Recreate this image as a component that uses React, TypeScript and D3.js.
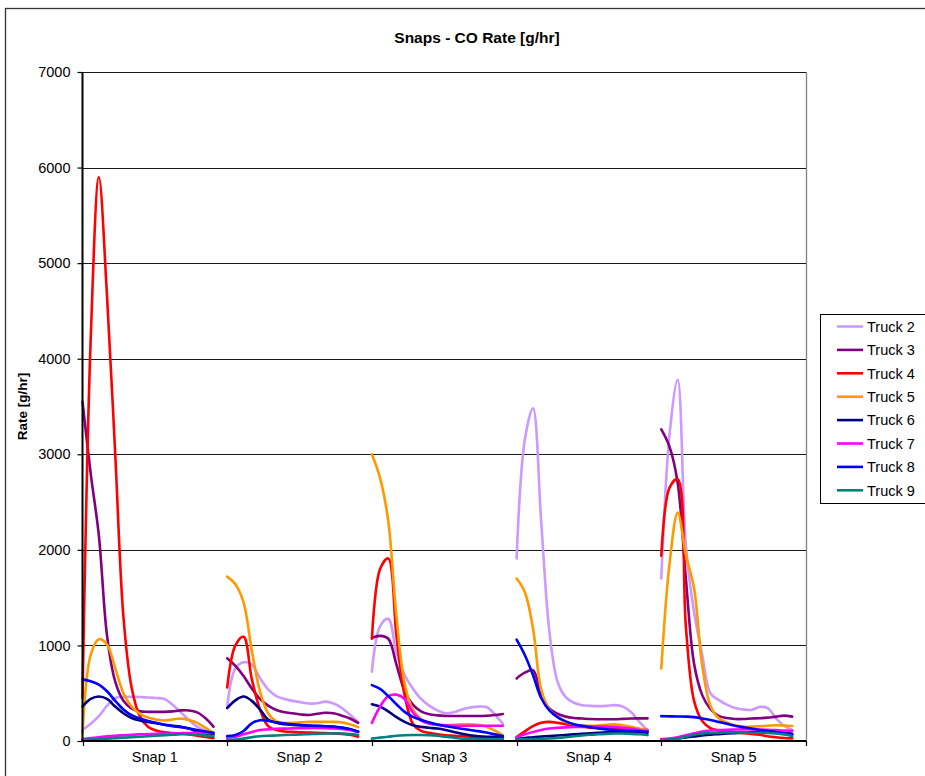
import React, { useRef, useEffect } from "react"
import * as d3 from "d3"

// categories / series
const snaps = ["Snap 1", "Snap 2", "Snap 3", "Snap 4", "Snap 5"]
const trucks = ["Truck 2", "Truck 3", "Truck 4", "Truck 5", "Truck 6", "Truck 7", "Truck 8", "Truck 9"]
const colors = ["#CC99FF", "#800080", "#FF0000", "#FF9900", "#000080", "#FF00FF", "#0000FF", "#008080"]
const yTicks = [0, 1000, 2000, 3000, 4000, 5000, 6000, 7000]

// CO rate [g/hr], 17 readings per snap
const truck2 = [
    [115, 180, 260, 370, 450, 462, 462, 460, 455, 450, 440, 380, 300, 220, 150, 110, 80],
    [360, 760, 825, 800, 660, 540, 470, 440, 420, 405, 392, 395, 412, 392, 345, 275, 200],
    [725, 1200, 1280, 920, 690, 550, 440, 370, 320, 290, 300, 330, 350, 360, 355, 280, 180],
    [1910, 3150, 3480, 2300, 1150, 620, 460, 400, 375, 368, 365, 368, 375, 360, 300, 200, 110],
    [1700, 3200, 3780, 2050, 1350, 900, 500, 430, 380, 345, 330, 325, 355, 345, 240, 160, 115],
]
const truck3 = [
    [3550, 2800, 2150, 1100, 620, 420, 340, 312, 305, 305, 305, 310, 320, 320, 300, 240, 150],
    [865, 785, 680, 550, 440, 370, 325, 300, 290, 278, 272, 285, 295, 290, 265, 235, 190],
    [1080, 1100, 1070, 800, 520, 380, 310, 280, 268, 262, 262, 262, 262, 262, 265, 272, 283],
    [655, 715, 740, 490, 340, 285, 255, 240, 235, 230, 228, 227, 228, 232, 236, 237, 237],
    [3260, 3080, 2700, 1700, 810, 480, 335, 262, 240, 230, 230, 235, 238, 245, 255, 265, 255],
]
const truck4 = [
    [450, 4200, 5900, 4650, 3000, 1300, 560, 260, 150, 110, 90, 82, 78, 68, 55, 42, 30],
    [560, 1000, 1090, 650, 330, 155, 115, 100, 95, 90, 88, 85, 82, 80, 75, 65, 45],
    [1070, 1800, 1910, 1100, 480, 180, 105, 85, 70, 60, 55, 50, 45, 40, 40, 42, 45],
    [40, 100, 155, 190, 200, 190, 175, 160, 150, 140, 135, 130, 128, 125, 122, 118, 115],
    [1940, 2650, 2740, 1200, 420, 210, 135, 110, 100, 90, 82, 75, 65, 50, 40, 32, 27],
]
const truck5 = [
    [80, 900, 1065, 1010, 760, 500, 360, 285, 245, 225, 215, 225, 235, 220, 190, 140, 80],
    [1720, 1640, 1450, 950, 520, 290, 205, 190, 190, 195, 200, 200, 200, 200, 195, 175, 145],
    [3000, 2750, 2300, 1300, 600, 330, 230, 185, 172, 168, 170, 175, 175, 168, 150, 110, 60],
    [1700, 1560, 1180, 540, 330, 250, 200, 175, 162, 160, 162, 170, 175, 165, 150, 130, 105],
    [760, 1850, 2390, 1950, 1600, 790, 370, 240, 195, 165, 152, 150, 155, 160, 165, 162, 157],
]
const truck6 = [
    [360, 440, 465, 440, 360, 290, 240, 215, 200, 185, 170, 160, 150, 130, 100, 80, 70],
    [345, 425, 465, 420, 330, 225, 190, 175, 168, 163, 160, 157, 155, 148, 138, 120, 95],
    [385, 360, 310, 250, 200, 165, 148, 138, 130, 115, 95, 75, 60, 50, 45, 45, 45],
    [25, 32, 40, 46, 52, 58, 63, 70, 76, 80, 85, 90, 95, 95, 92, 90, 87],
    [15, 20, 28, 38, 48, 58, 66, 72, 78, 82, 86, 90, 94, 95, 92, 85, 75],
]
const truck7 = [
    [20, 30, 40, 48, 55, 60, 65, 70, 72, 75, 78, 80, 82, 84, 85, 85, 85],
    [35, 45, 70, 95, 115, 122, 128, 130, 132, 134, 135, 136, 135, 132, 125, 115, 95],
    [190, 360, 470, 485, 440, 300, 215, 180, 168, 163, 160, 160, 160, 160, 160, 160, 160],
    [40, 70, 95, 115, 130, 138, 143, 146, 148, 150, 150, 150, 148, 140, 130, 115, 100],
    [20, 25, 38, 60, 80, 100, 110, 115, 118, 120, 122, 122, 120, 118, 115, 110, 108],
]
const truck8 = [
    [645, 625, 590, 520, 420, 330, 270, 235, 210, 190, 170, 155, 145, 130, 115, 100, 85],
    [52, 63, 105, 185, 218, 210, 195, 183, 175, 167, 162, 158, 155, 150, 140, 125, 100],
    [585, 545, 470, 385, 305, 252, 220, 195, 172, 155, 142, 128, 115, 103, 88, 70, 52],
    [1060, 900, 690, 450, 320, 250, 205, 175, 158, 145, 132, 122, 115, 110, 106, 102, 97],
    [260, 258, 256, 255, 250, 235, 220, 200, 180, 160, 145, 130, 115, 105, 95, 80, 65],
]
const truck9 = [
    [10, 15, 20, 25, 30, 35, 40, 45, 50, 55, 60, 65, 70, 70, 65, 58, 52],
    [10, 15, 25, 40, 50, 55, 58, 62, 65, 68, 72, 75, 78, 80, 78, 72, 62],
    [25, 35, 45, 55, 60, 62, 62, 60, 55, 45, 35, 25, 20, 20, 20, 20, 20],
    [15, 18, 20, 23, 27, 32, 40, 50, 58, 65, 70, 75, 78, 78, 75, 70, 62],
    [10, 15, 25, 45, 65, 78, 84, 88, 90, 90, 88, 87, 86, 84, 78, 68, 52],
]

const series = [truck2, truck3, truck4, truck5, truck6, truck7, truck8, truck9]

const W = 925
const H = 776
const FONT = "'Liberation Sans', Arial, Helvetica, sans-serif"
const SPAN = 0.905 // part of each snap band covered by readings

const App = () => {

    const element = useRef<SVGSVGElement>(null)

    useEffect(() => {
        const svg = d3.select(element.current)
        svg.selectAll("*").remove()

        const left = 82.5, right = 806, top = 72, bottom = 741

        const x = d3.scaleLinear().domain([0, snaps.length]).range([left, right])
        const y = d3.scaleLinear().domain([0, 7000]).range([bottom, top])
        const crisp = (v: number) => Math.round(v) + 0.5

        // chart border
        svg.append("rect")
            .attr("x", 5.5).attr("y", 8.5)
            .attr("width", 960).attr("height", 820)
            .attr("fill", "#fff")
            .attr("stroke", "#333")
            .attr("stroke-width", 1.3)

        svg.append("text")
            .attr("x", 477).attr("y", 43)
            .attr("text-anchor", "middle")
            .style("font-family", FONT)
            .style("font-size", "15.5px")
            .style("font-weight", "bold")
            .text("Snaps - CO Rate [g/hr]")

        // plot area right border
        svg.append("line")
            .attr("x1", crisp(right)).attr("x2", crisp(right))
            .attr("y1", top).attr("y2", bottom)
            .attr("stroke", "#808080")
            .attr("stroke-width", 1.3)

        // gridlines
        svg.append("g")
            .selectAll("line")
            .data(yTicks.filter(d => d > 0))
            .enter()
            .append("line")
                .attr("x1", x(0)).attr("x2", x(snaps.length))
                .attr("y1", d => crisp(y(d))).attr("y2", d => crisp(y(d)))
                .attr("stroke", "#1a1a1a")
                .attr("stroke-width", 1.1)

        // y axis
        const yAxis = svg.append("g")
            .attr("transform", "translate(" + x(0) + ",0)")
            .call(d3.axisLeft(y).tickValues(yTicks).tickSize(5).tickPadding(7).tickFormat(d3.format("d")))
        yAxis.select(".domain").remove()
        yAxis.selectAll(".tick line").attr("stroke", "#000").attr("stroke-width", 1.2)
        yAxis.selectAll(".tick text")
            .style("font-family", FONT)
            .style("font-size", "14.5px")
            .attr("fill", "#000")

        svg.append("text")
            .attr("transform", "translate(22," + (top + bottom) / 2 + ") rotate(-90)")
            .attr("text-anchor", "middle")
            .attr("dy", "0.35em")
            .style("font-family", FONT)
            .style("font-size", "13.5px")
            .style("font-weight", "bold")
            .text("Rate [g/hr]")

        // x axis ticks + labels
        svg.append("g")
            .selectAll("line")
            .data(d3.range(snaps.length + 1))
            .enter()
            .append("line")
                .attr("x1", d => crisp(x(d))).attr("x2", d => crisp(x(d)))
                .attr("y1", bottom).attr("y2", bottom + 5)
                .attr("stroke", "#000")
                .attr("stroke-width", 1.2)

        svg.append("g")
            .selectAll("text")
            .data(snaps)
            .enter()
            .append("text")
                .attr("x", (d, i) => x(i + 0.5))
                .attr("y", 762)
                .attr("text-anchor", "middle")
                .style("font-family", FONT)
                .style("font-size", "14.5px")
                .text(d => d)

        // series lines
        const plot = svg.append("g")
        series.forEach((truck, k) => {
            truck.forEach((values, s) => {
                const line = d3.line<number>()
                    .x((d, i) => x(s + (i / (values.length - 1)) * SPAN))
                    .y(d => y(d))
                    .curve(d3.curveCatmullRom.alpha(0.5))
                plot.append("path")
                    .attr("d", line(values))
                    .attr("fill", "none")
                    .attr("stroke", colors[k])
                    .attr("stroke-width", 2.6)
                    .attr("stroke-linejoin", "round")
                    .attr("stroke-linecap", "round")
            })
        })

        // axis lines on top
        svg.append("line")
            .attr("x1", x(0)).attr("x2", x(0))
            .attr("y1", top).attr("y2", bottom + 1)
            .attr("stroke", "#000").attr("stroke-width", 2)
        svg.append("line")
            .attr("x1", x(0) - 1).attr("x2", right)
            .attr("y1", bottom).attr("y2", bottom)
            .attr("stroke", "#000").attr("stroke-width", 2)

        // legend
        const legend = svg.append("g").attr("transform", "translate(820,314)")
        legend.append("rect")
            .attr("x", 0.5).attr("y", 0.5)
            .attr("width", 140).attr("height", 189)
            .attr("fill", "#fff")
            .attr("stroke", "#000")
            .attr("stroke-width", 1)
        const rows = legend.selectAll(".row")
            .data(trucks)
            .enter()
            .append("g")
                .attr("transform", (d, i) => "translate(0," + (12.5 + i * 23.4) + ")")
        rows.append("line")
            .attr("x1", 17).attr("x2", 43)
            .attr("y1", 0).attr("y2", 0)
            .attr("stroke", (d, i) => colors[i])
            .attr("stroke-width", 2.6)
        rows.append("text")
            .attr("x", 47)
            .attr("dy", "0.36em")
            .style("font-family", FONT)
            .style("font-size", "14.5px")
            .text(d => d)
    }, [])

    return (
        <svg ref={element} width={W} height={H}
            style={{ position: "absolute", left: 0, top: 0, background: "#fff" }} />
    )
}

export default App
